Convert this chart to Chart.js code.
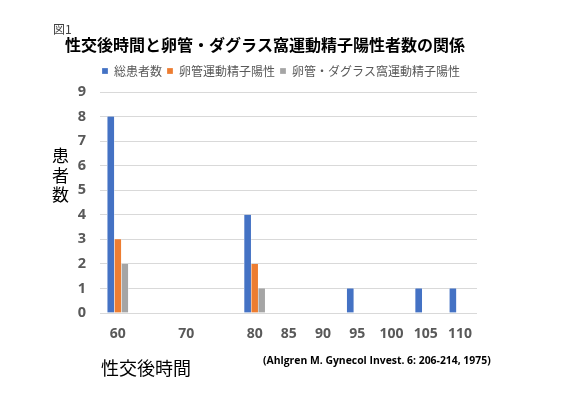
<!DOCTYPE html>
<html>
<head>
<meta charset="utf-8">
<script src="https://cdn.jsdelivr.net/npm/chart.js@4"></script>
<style>
  html, body { margin: 0; padding: 0; background: #fff; }
  #wrap { width: 562px; height: 398px; }
</style>
</head>
<body>
<div id="wrap"><canvas id="chart"></canvas></div>
<script>
// hours after coitus where patients were examined
const hours = [60, 80, 95, 105, 110];
const totalPatients = [8, 4, 1, 1, 1];
const tubePositive = [3, 2, 0, 0, 0];
const tubeDouglasPositive = [2, 1, 0, 0, 0];
const tickHours = [60, 70, 80, 85, 90, 95, 100, 105, 110];
const seriesNames = ['総患者数', '卵管運動精子陽性', '卵管・ダグラス窩運動精子陽性'];

const jpFont = '"Noto Sans CJK JP", "Noto Sans", sans-serif';
const numFont = '"Open Sans", "Noto Sans", sans-serif';

function points(values) {
    return hours.map((h, i) => ({ x: h, y: values[i] }));
}

// texts that sit outside the chart boxes
const textPlugin = {
    id: 'extraText',
    afterDraw(chart) {
        const ctx = chart.ctx;
        ctx.save();
        ctx.textBaseline = 'middle';
        ctx.textAlign = 'left';

        ctx.fillStyle = '#404040';
        ctx.font = '12px ' + jpFont;
        ctx.fillText('図1', 53, 29);

        ctx.fillStyle = '#000';
        ctx.font = 'bold 16px ' + jpFont;
        ctx.fillText('性交後時間と卵管・ダグラス窩運動精子陽性者数の関係', 65, 45);

        ctx.font = '17px ' + jpFont;
        ctx.textAlign = 'center';
        ['患', '者', '数'].forEach((c, i) => {
            ctx.fillText(c, 60.5, 156 + i * 19.5);
        });

        ctx.textAlign = 'left';
        ctx.font = '18px ' + jpFont;
        ctx.fillText('性交後時間', 101, 368);

        ctx.font = 'bold 10.4px ' + numFont;
        ctx.fillText('(Ahlgren M. Gynecol Invest. 6: 206-214, 1975)', 263, 361);
        ctx.restore();
    }
};

const data = {
    datasets: [
        {
            label: seriesNames[0],
            data: points(totalPatients),
            backgroundColor: '#4472C4'
        },
        {
            label: seriesNames[1],
            data: points(tubePositive),
            backgroundColor: '#ED7D31'
        },
        {
            label: seriesNames[2],
            data: points(tubeDouglasPositive),
            backgroundColor: '#A5A5A5'
        }
    ]
};
data.datasets.forEach(ds => {
    ds.barThickness = 7;
    ds.borderColor = '#ffffff';
    ds.borderWidth = { top: 0, bottom: 0, left: 0.5, right: 0.5 };
});

const config = {
    type: 'bar',
    data: data,
    plugins: [textPlugin],
    options: {
        responsive: true,
        maintainAspectRatio: false,
        animation: false,
        layout: {
            padding: { top: 60, left: 0, right: 0, bottom: 0 }
        },
        plugins: {
            title: { display: false },
            tooltip: { enabled: false },
            legend: {
                position: 'top',
                labels: {
                    boxWidth: 6,
                    boxHeight: 6,
                    padding: 5,
                    color: '#595959',
                    font: { family: jpFont, size: 12 }
                }
            }
        },
        scales: {
            x: {
                type: 'linear',
                min: 57.4,
                max: 112.5,
                offset: false,
                grid: { display: false, offset: false, drawTicks: false },
                border: { display: false },
                afterBuildTicks: s => { s.ticks = tickHours.map(v => ({ value: v })); },
                afterFit: s => { s.height = 85; },
                ticks: {
                    autoSkip: false,
                    maxRotation: 0,
                    padding: 13,
                    color: '#595959',
                    font: { family: numFont, size: 14, weight: 'bold' }
                }
            },
            xTop: {
                type: 'linear',
                position: 'top',
                display: true,
                grid: { display: false, drawTicks: false },
                border: { display: false },
                ticks: { display: false },
                afterFit: s => { s.height = 5; }
            },
            y: {
                min: 0,
                max: 9,
                grid: { color: '#d9d9d9', drawTicks: false },
                border: { display: false },
                afterFit: s => { s.width = 100; },
                ticks: {
                    stepSize: 1,
                    padding: 14,
                    color: '#595959',
                    font: { family: numFont, size: 14.5, weight: 'bold' }
                }
            },
            yRight: {
                type: 'linear',
                position: 'right',
                display: true,
                grid: { display: false, drawTicks: false },
                border: { display: false },
                ticks: { display: false },
                afterFit: s => { s.width = 85; }
            }
        }
    }
};

new Chart(document.getElementById('chart'), config);
</script>
</body>
</html>
